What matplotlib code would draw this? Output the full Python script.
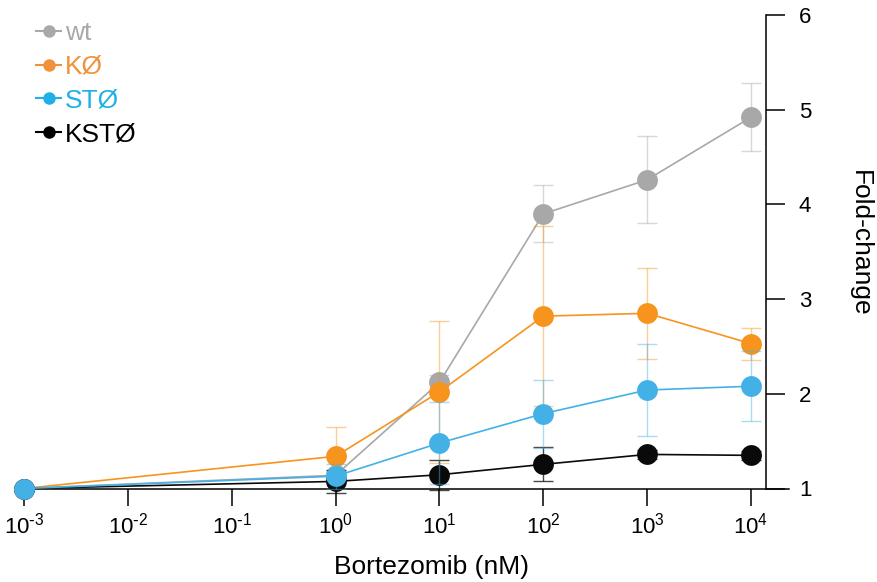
import numpy as np
import matplotlib
matplotlib.use("Agg")
import matplotlib.pyplot as plt
from matplotlib.lines import Line2D
from matplotlib.ticker import FixedLocator, NullLocator

plt.rcParams['font.family'] = ['Liberation Sans', 'DejaVu Sans']
plt.rcParams['mathtext.default'] = 'regular'

# dosis de bortezomib (nM) y fold-change medio +/- error
doses = [1e-3, 1e0, 1e1, 1e2, 1e3, 1e4]
dose_labels = ['10$^{\\text{-}3}$', '10$^{\\text{-}2}$', '10$^{\\text{-}1}$', '10$^{0}$',
               '10$^{1}$', '10$^{2}$', '10$^{3}$', '10$^{4}$']

wt = [1.0, 1.14, 2.12, 3.90, 4.26, 4.92]
wt_err = [0.0, 0.05, 0.08, 0.30, 0.46, 0.36]

ko = [1.0, 1.34, 2.02, 2.82, 2.85, 2.53]
ko_err = [0.0, 0.31, 0.75, 0.95, 0.48, 0.17]

st = [1.0, 1.13, 1.48, 1.79, 2.04, 2.08]
st_err = [0.0, 0.13, 0.43, 0.36, 0.49, 0.37]

kst = [1.0, 1.075, 1.145, 1.255, 1.36, 1.35]
kst_err = [0.0, 0.12, 0.16, 0.18, 0.05, 0.05]

names = ['wt', 'KØ', 'STØ', 'KSTØ']
series = [wt, ko, st, kst]
errors = [wt_err, ko_err, st_err, kst_err]
colors = ['#a8a8a8', '#f7941e', '#44b1e6', '#0a0a0a']
text_colors = ['#a9a9a9', '#f0923a', '#1fb1e6', '#000000']
err_alpha = [0.45, 0.45, 0.45, 0.75]
zorders = [2, 3, 5, 4]

fig = plt.figure(figsize=(8.77, 5.82), dpi=100)
ax = fig.add_axes([15 / 877, 1 - 488.5 / 582, 774 / 877, 473.5 / 582])

for y, e, c, a, z in zip(series, errors, colors, err_alpha, zorders):
    ax.errorbar(doses, y, yerr=e, fmt='none', ecolor=c, alpha=a,
                elinewidth=1.0, capsize=7.2, capthick=1.0, zorder=z, clip_on=False)
    ax.plot(doses, y, '-o', color=c, lw=1.2, markersize=15, markeredgewidth=0,
            zorder=z + 0.5, clip_on=False)

ax.set_xscale('log')
ax.set_xlim(10 ** -3.0867, 10 ** 4.366)
ax.set_ylim(1, 6)

ax.xaxis.set_major_locator(FixedLocator([10.0 ** k for k in range(-3, 5)]))
ax.xaxis.set_minor_locator(NullLocator())
ax.set_xticklabels(dose_labels)

ax.spines['left'].set_visible(False)
ax.spines['top'].set_visible(False)
ax.spines['right'].set_position(('data', 10 ** 4.1444))
ax.spines['right'].set_linewidth(1.1)
ax.spines['bottom'].set_linewidth(1.1)

ax.yaxis.tick_right()
ax.set_yticks([1, 2, 3, 4, 5, 6])
ax.tick_params(axis='x', direction='out', length=12, width=1.1, labelsize=16, pad=5)
ax.tick_params(axis='y', direction='out', length=13.7, width=1.1, labelsize=16, pad=10)

fig.text(432 / 877, 1 - 567 / 582, 'Bortezomib (nM)', fontsize=19,
         ha='center', va='center')
fig.text(860 / 877, 1 - 243 / 582, 'Fold-change', fontsize=19,
         rotation=270, ha='center', va='center')

handles = [Line2D([], [], color=c, lw=1.5, marker='o', markersize=9,
                  markeredgewidth=0) for c in text_colors]
ax.legend(handles, names, loc='upper left', bbox_to_anchor=(36 / 877, 1 - 21 / 582),
          bbox_transform=fig.transFigure, frameon=False, fontsize=19,
          handlelength=0.95, handletextpad=0.15, labelspacing=0.37,
          borderpad=0, borderaxespad=0, labelcolor=text_colors)

fig.savefig('out.png', dpi=100)
